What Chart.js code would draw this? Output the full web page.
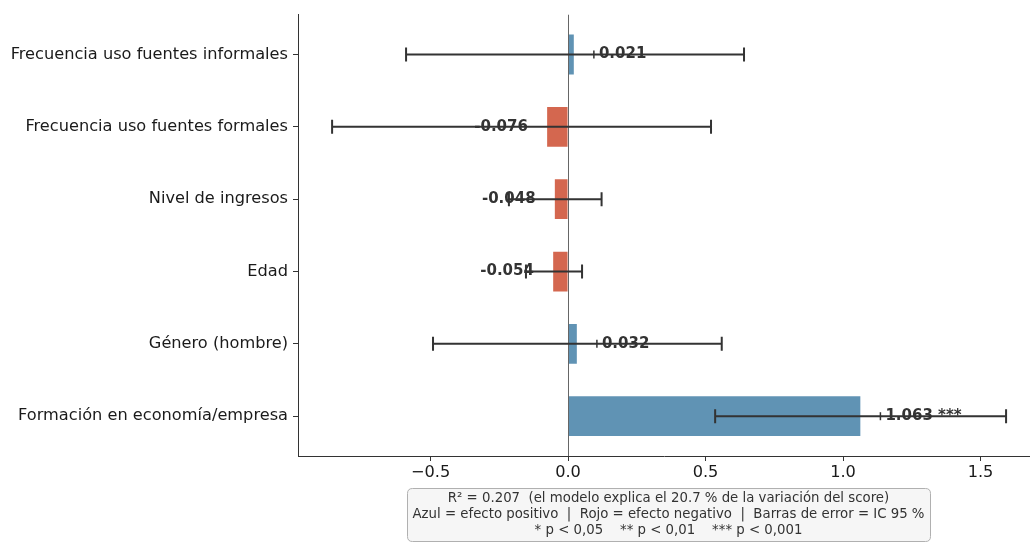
<!DOCTYPE html>
<html>
<head>
<meta charset="utf-8">
<script src="https://cdn.jsdelivr.net/npm/chart.js@4"></script>
<style>
  html, body { margin: 0; padding: 0; background: #ffffff; }
  #wrap { width: 1030px; height: 542px; }
</style>
</head>
<body>
<div id="wrap"><canvas id="c" width="1030" height="542"></canvas></div>
<script>
// ---- data ----
const categories = [
  "Frecuencia uso fuentes informales",
  "Frecuencia uso fuentes formales",
  "Nivel de ingresos",
  "Edad",
  "Género (hombre)",
  "Formación en economía/empresa"
];
const coefficients = [0.021, -0.076, -0.048, -0.054, 0.032, 1.063];
const ciLow  = [-0.589, -0.858, -0.215, -0.153, -0.491, 0.535];
const ciHigh = [ 0.640,  0.520,  0.122,  0.051,  0.559, 1.593];
const stars  = ["", "", "", "", "", " ***"];
const xTicks = [-0.5, 0.0, 0.5, 1.0, 1.5];
const footerLines = [
  "R² = 0.207  (el modelo explica el 20.7 % de la variación del score)",
  "Azul = efecto positivo  |  Rojo = efecto negativo  |  Barras de error = IC 95 %",
  "* p < 0,05    ** p < 0,01    *** p < 0,001"
];

const BLUE = "#6093b4";
const RED = "#d4674f";
const FONT = "'DejaVu Sans', sans-serif";

const overlay = {
  id: "overlay",
  afterDatasetsDraw(chart) {
    const ctx = chart.ctx;
    const xs = chart.scales.x, ys = chart.scales.y;
    const area = chart.chartArea;
    ctx.save();
    // zero line
    const x0 = Math.round(xs.getPixelForValue(0)) + 0.5;
    ctx.strokeStyle = "#666666";
    ctx.lineWidth = 1;
    ctx.beginPath();
    ctx.moveTo(x0, area.top);
    ctx.lineTo(x0, area.bottom);
    ctx.stroke();
    // error bars
    ctx.strokeStyle = "#333333";
    ctx.lineWidth = 2;
    categories.forEach((c, i) => {
      const y = ys.getPixelForValue(i);
      const a = xs.getPixelForValue(ciLow[i]);
      const b = xs.getPixelForValue(ciHigh[i]);
      ctx.beginPath();
      ctx.moveTo(a, y); ctx.lineTo(b, y);
      ctx.moveTo(a, y - 7); ctx.lineTo(a, y + 7);
      ctx.moveTo(b, y - 7); ctx.lineTo(b, y + 7);
      ctx.stroke();
    });
    // value labels
    ctx.font = "bold 15px " + FONT;
    ctx.fillStyle = "#333333";
    ctx.textBaseline = "middle";
    coefficients.forEach((v, i) => {
      const y = ys.getPixelForValue(i);
      const txt = v.toFixed(3) + stars[i];
      if (v >= 0) {
        const ax = xs.getPixelForValue(v + 0.073);
        ctx.lineWidth = 1.5;
        ctx.beginPath();
        ctx.moveTo(ax, y - 4); ctx.lineTo(ax, y + 4);
        ctx.stroke();
        ctx.textAlign = "left";
        ctx.fillText(txt, ax + 5, y);
      } else {
        const ax = xs.getPixelForValue(v - 0.07);
        ctx.textAlign = "right";
        ctx.fillText(txt, ax, y);
      }
    });
    ctx.restore();
  },
  afterDraw(chart) {
    const ctx = chart.ctx;
    ctx.save();
    const bx = 407.5, by = 488.5, bw = 523, bh = 53, r = 5;
    ctx.beginPath();
    ctx.moveTo(bx + r, by);
    ctx.lineTo(bx + bw - r, by);
    ctx.quadraticCurveTo(bx + bw, by, bx + bw, by + r);
    ctx.lineTo(bx + bw, by + bh - r);
    ctx.quadraticCurveTo(bx + bw, by + bh, bx + bw - r, by + bh);
    ctx.lineTo(bx + r, by + bh);
    ctx.quadraticCurveTo(bx, by + bh, bx, by + bh - r);
    ctx.lineTo(bx, by + r);
    ctx.quadraticCurveTo(bx, by, bx + r, by);
    ctx.closePath();
    ctx.fillStyle = "rgba(245,245,245,0.95)";
    ctx.fill();
    ctx.strokeStyle = "#b0b0b0";
    ctx.lineWidth = 1;
    ctx.stroke();
    ctx.font = "13.3px " + FONT;
    ctx.fillStyle = "#333333";
    ctx.textAlign = "center";
    ctx.textBaseline = "middle";
    footerLines.forEach((t, k) => ctx.fillText(t, 668.5, 499 + k * 16));
    ctx.restore();
  }
};

new Chart(document.getElementById("c"), {
  type: "bar",
  data: {
    datasets: [{
      data: coefficients.map((v, i) => ({ x: v, y: i })),
      backgroundColor: coefficients.map(v => v >= 0 ? BLUE : RED),
      borderWidth: 0,
      barPercentage: 0.55,
      categoryPercentage: 1.0
    }]
  },
  options: {
    indexAxis: "y",
    responsive: false,
    animation: false,
    events: [],
    layout: { padding: { top: 10, left: 0, right: 0, bottom: 0 } },
    plugins: { legend: { display: false }, tooltip: { enabled: false } },
    scales: {
      y: {
        type: "linear",
        reverse: true,
        offset: false,
        min: -0.55,
        max: 5.55,
        afterBuildTicks(s) { s.ticks = categories.map((c, i) => ({ value: i })); },
        afterFit(s) { s.width = 298; },
        ticks: {
          autoSkip: false,
          padding: 5,
          color: "#1a1a1a",
          font: { family: FONT, size: 16.2 },
          callback: v => categories[v]
        },
        grid: { offset: false, drawOnChartArea: false, drawTicks: true, tickLength: 5, color: "#333333", tickWidth: 1 },
        border: { display: true, color: "#333333", width: 1 }
      },
      x: {
        type: "linear",
        min: -0.982,
        max: 1.68,
        afterBuildTicks(s) { s.ticks = xTicks.map(v => ({ value: v })); },
        afterFit(s) { s.height = 86; },
        ticks: {
          padding: 2,
          color: "#1a1a1a",
          font: { family: FONT, size: 16.2 },
          callback: v => (v < 0 ? "\u2212" + Math.abs(v).toFixed(1) : v.toFixed(1))
        },
        grid: { drawOnChartArea: false, drawTicks: true, tickLength: 5, color: "#333333", tickWidth: 1 },
        border: { display: true, color: "#333333", width: 1 }
      }
    }
  },
  plugins: [overlay]
});
</script>
</body>
</html>
